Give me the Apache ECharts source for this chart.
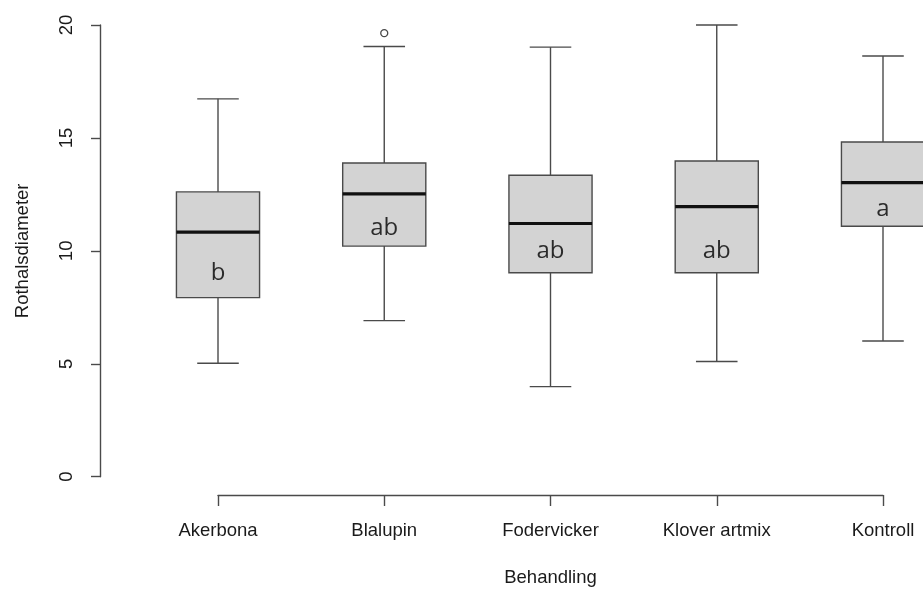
<!DOCTYPE html>
<html>
<head>
<meta charset="utf-8">
<script src="https://cdn.jsdelivr.net/npm/echarts@6/dist/echarts.min.js"></script>
<style>
  html, body { margin: 0; padding: 0; background: #ffffff; }
  #chart { width: 923px; height: 592px; }
</style>
</head>
<body>
<div id="chart"></div>
<script>
// Treatments on the x axis
const categories = ['Akerbona', 'Blalupin', 'Fodervicker', 'Klover artmix', 'Kontroll'];
// Five-number summaries per treatment: lower whisker, Q1, median, Q3, upper whisker
const lowerWhisker = [5.02, 6.91, 3.99, 5.10, 6.01];
const q1Values     = [7.93, 10.21, 9.03, 9.03, 11.09];
const medians      = [10.83, 12.52, 11.21, 11.96, 13.02];
const q3Values     = [12.61, 13.89, 13.35, 13.98, 14.82];
const upperWhisker = [16.73, 19.05, 19.02, 20.0, 18.63];
// Outliers: [treatment, value]
const outliers = [['Blalupin', 19.64]];
// Significance group letters and the height where each is printed
const groupLetters = ['b', 'ab', 'ab', 'ab', 'a'];
const letterHeights = [9.0, 11.0, 10.0, 10.0, 11.85];
// Y axis ticks
const yTicks = [0, 5, 10, 15, 20];

const boxData = categories.map((c, i) =>
  [i, lowerWhisker[i], q1Values[i], medians[i], q3Values[i], upperWhisker[i]]);

const lineColor = '#4a4a4a';
const textColor = '#1a1a1a';
const axisFont = 'Liberation Sans, Arial, sans-serif';

function renderBox(params, api) {
  const x = api.value(0);
  const lo = api.coord([x, api.value(1)]);
  const q1 = api.coord([x, api.value(2)]);
  const md = api.coord([x, api.value(3)]);
  const q3 = api.coord([x, api.value(4)]);
  const hi = api.coord([x, api.value(5)]);
  const band = api.size([1, 0])[0];
  const halfBox = band * 0.25;
  const halfCap = halfBox * 0.5;
  const cx = lo[0];
  const lineStyle = { stroke: lineColor, lineWidth: 1.4, fill: null };
  return {
    type: 'group',
    children: [
      { type: 'line', shape: { x1: cx, y1: lo[1], x2: cx, y2: q1[1] }, style: lineStyle },
      { type: 'line', shape: { x1: cx, y1: q3[1], x2: cx, y2: hi[1] }, style: lineStyle },
      { type: 'line', shape: { x1: cx - halfCap, y1: lo[1], x2: cx + halfCap, y2: lo[1] }, style: lineStyle },
      { type: 'line', shape: { x1: cx - halfCap, y1: hi[1], x2: cx + halfCap, y2: hi[1] }, style: lineStyle },
      { type: 'rect', shape: { x: cx - halfBox, y: q3[1], width: halfBox * 2, height: q1[1] - q3[1] },
        style: { fill: '#d3d3d3', stroke: lineColor, lineWidth: 1.4 } },
      { type: 'line', shape: { x1: cx - halfBox, y1: md[1], x2: cx + halfBox, y2: md[1] },
        style: { stroke: '#111111', lineWidth: 3.2 } }
    ]
  };
}

const chart = echarts.init(document.getElementById('chart'), null, { renderer: 'canvas' });
chart.setOption({
  animation: false,
  backgroundColor: '#ffffff',
  grid: { left: 218, right: 40, top: 25, bottom: 114.3, containLabel: false },
  xAxis: {
    type: 'category',
    data: categories,
    boundaryGap: false,
    offset: 18.3,
    name: 'Behandling',
    nameLocation: 'middle',
    nameGap: 73,
    nameTextStyle: { fontFamily: axisFont, fontSize: 18.5, color: textColor },
    axisLine: { show: true, onZero: false, lineStyle: { color: lineColor, width: 1.4 } },
    axisTick: { show: true, length: 11, inside: false, lineStyle: { color: lineColor, width: 1.4 } },
    axisLabel: { margin: 26, fontFamily: axisFont, fontSize: 18.5, color: textColor, interval: 0 },
    splitLine: { show: false }
  },
  yAxis: {
    type: 'value',
    min: yTicks[0],
    max: yTicks[yTicks.length - 1],
    interval: yTicks[1] - yTicks[0],
    offset: 118,
    name: 'Rothalsdiameter',
    nameLocation: 'middle',
    nameRotate: 90,
    nameGap: 68,
    nameTextStyle: { fontFamily: axisFont, fontSize: 18.5, color: textColor },
    axisLine: { show: true, onZero: false, lineStyle: { color: lineColor, width: 1.4 } },
    axisTick: { show: true, length: 9, inside: false, lineStyle: { color: lineColor, width: 1.4 } },
    axisLabel: { rotate: 90, margin: 24, fontFamily: axisFont, fontSize: 18.5, color: textColor },
    splitLine: { show: false }
  },
  series: [
    {
      type: 'custom',
      renderItem: renderBox,
      data: boxData,
      encode: { x: 0, y: [1, 2, 3, 4, 5] },
      clip: false,
      silent: true
    },
    {
      type: 'scatter',
      data: outliers.map(o => [categories.indexOf(o[0]), o[1]]),
      symbol: 'circle',
      symbolSize: 7,
      itemStyle: { color: '#ffffff', borderColor: lineColor, borderWidth: 1.3, opacity: 1 },
      silent: true,
      z: 5
    },
    {
      type: 'scatter',
      data: groupLetters.map((l, i) => ({ value: [i, letterHeights[i]], name: l })),
      symbolSize: 0,
      silent: true,
      label: {
        show: true,
        position: 'inside',
        formatter: p => p.name,
        fontFamily: 'Open Sans, Noto Sans, sans-serif',
        fontSize: 24,
        color: '#000000'
      }
    }
  ]
});
</script>
</body>
</html>
